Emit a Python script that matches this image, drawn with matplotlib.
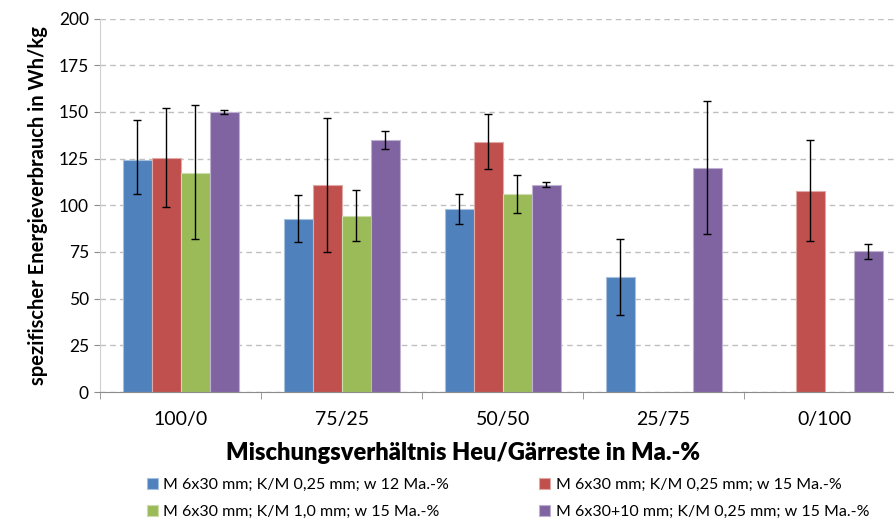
import matplotlib.pyplot as plt
import numpy as np

plt.rcParams['font.family'] = ['Lato', 'DejaVu Sans']

# Daten
gruppen = ['100/0', '75/25', '50/50', '25/75', '0/100']

serien = ['M 6x30 mm; K/M 0,25 mm; w 12 Ma.-%',
          'M 6x30 mm; K/M 0,25 mm; w 15 Ma.-%',
          'M 6x30 mm; K/M 1,0 mm; w 15 Ma.-%',
          'M 6x30+10 mm; K/M 0,25 mm; w 15 Ma.-%']

werte_blau = [124, 92.5, 98, 61.5, np.nan]
werte_rot = [125.5, 111, 134, np.nan, 107.5]
werte_gruen = [117.5, 94, 106, np.nan, np.nan]
werte_lila = [150, 135, 111, 120, 75.5]

# Fehler (unten, oben) als absolute Grenzen
unten_blau = [106, 80.5, 90, 41, np.nan]
oben_blau = [145.5, 105.5, 106, 82, np.nan]
unten_rot = [99, 75, 119.5, np.nan, 81]
oben_rot = [152, 147, 149, np.nan, 135]
unten_gruen = [82, 81, 96, np.nan, np.nan]
oben_gruen = [153.5, 108, 116, np.nan, np.nan]
unten_lila = [149, 130, 110, 84.5, 71]
oben_lila = [151, 140, 112.5, 156, 79.5]

farben = ['#4F81BD', '#C0504D', '#9BBB59', '#8064A2']
kanten = ['#A7C0DE', '#E0A8A6', '#CDDDAC', '#BFB1D0']

werte = [werte_blau, werte_rot, werte_gruen, werte_lila]
unten = [unten_blau, unten_rot, unten_gruen, unten_lila]
oben = [oben_blau, oben_rot, oben_gruen, oben_lila]

fig = plt.figure(figsize=(8.94, 5.22), dpi=100)
ax = fig.add_axes([0.1119, 0.249, 0.9007, 0.7155])

x = np.arange(len(gruppen))
breite = 0.18

handles = []
for i in range(4):
    w = np.array(werte[i], dtype=float)
    pos = x + (i - 1.5) * breite
    ok = ~np.isnan(w)
    h = ax.bar(pos[ok], w[ok], breite, color=farben[i], edgecolor=kanten[i],
               linewidth=0.8, label=serien[i], zorder=2)
    handles.append(h)
    fehler = np.array([w[ok] - np.array(unten[i])[ok], np.array(oben[i])[ok] - w[ok]])
    ax.errorbar(pos[ok], w[ok], yerr=fehler, fmt='none', ecolor='black', elinewidth=1,
                capsize=3, capthick=1, zorder=3)

ax.set_ylim(0, 200)
ax.set_xlim(-0.5, 4.5)
ax.set_yticks(np.arange(0, 201, 25))
ax.yaxis.grid(True, linestyle=(0, (4, 3)), color='#BFBFBF', linewidth=1, zorder=0)
ax.set_axisbelow(True)

ax.set_xticks(x)
ax.set_xticklabels(gruppen, fontsize=14)
ax.set_xticks(np.arange(-0.5, 5, 1), minor=True)
ax.tick_params(axis='x', which='major', length=0, pad=14)
ax.tick_params(axis='x', which='minor', length=5, color='#8C8C8C')
ax.tick_params(axis='y', labelsize=12.5, length=4, color='#8C8C8C', pad=4)

for s in ['top', 'right']:
    ax.spines[s].set_visible(False)
ax.spines['left'].set_color('#D0D0D0')
ax.spines['bottom'].set_color('#8C8C8C')

ax.set_ylabel('spezifischer Energieverbrauch in Wh/kg', fontsize=14.5, fontweight='bold',
              labelpad=8)
ax.set_xlabel('Mischungsverhältnis Heu/Gärreste in Ma.-%', fontsize=17,
              fontweight='heavy')
ax.xaxis.set_label_coords(0.451, -0.135)

# Legende zeilenweise: blau, rot / gruen, lila
reihenfolge = [0, 2, 1, 3]
fig.legend([handles[k] for k in reihenfolge], [serien[k] for k in reihenfolge],
           loc='lower left', bbox_to_anchor=(0.148, -0.022), ncol=2, frameon=False,
           fontsize=11.5, handlelength=0.7, handleheight=0.7, handletextpad=0.35,
           columnspacing=5.6, labelspacing=0.8)

fig.savefig('out.png', dpi=100)
